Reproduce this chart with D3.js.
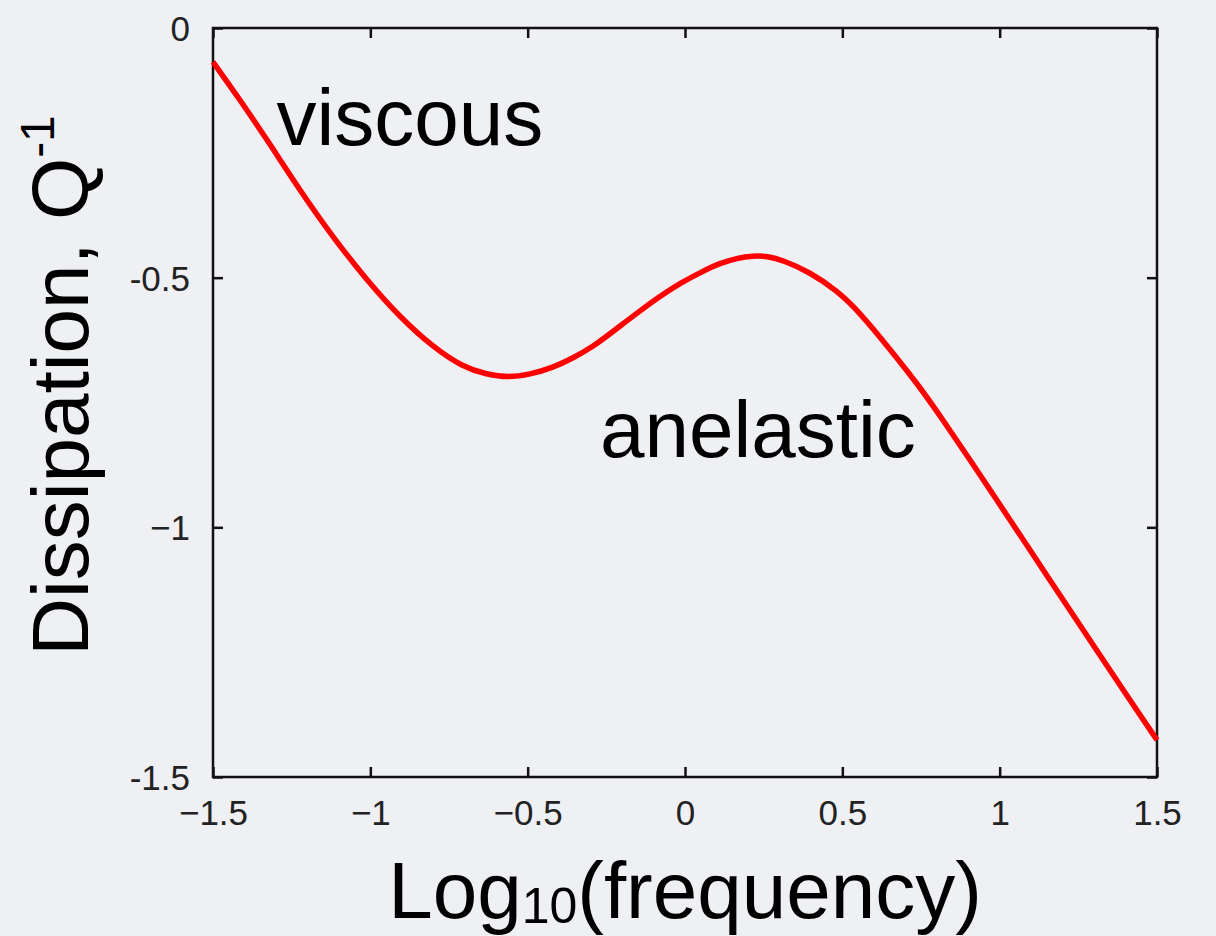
<!DOCTYPE html>
<html>
<head>
<meta charset="utf-8">
<script src="https://cdn.jsdelivr.net/npm/d3@7"></script>
<style>
  html, body { margin: 0; padding: 0; background: #eff0f4; }
  svg { display: block; }
  text { font-family: "Liberation Sans", Arial, Helvetica, sans-serif; }
</style>
</head>
<body>
<svg id="chart" width="1216" height="936"></svg>
<script>
// Dissipation curve: log10(frequency) vs Q^-1
const logFreq = [-1.5, -1.414, -1.328, -1.224, -1.119, -1.011, -0.906, -0.801, -0.706, -0.629,
  -0.563, -0.493, -0.419, -0.356, -0.292, -0.229, -0.153, -0.079, -0.016, 0.057,
  0.111, 0.165, 0.216, 0.261, 0.311, 0.397, 0.483, 0.556, 0.651, 0.737,
  0.820, 0.906, 1.033, 1.160, 1.287, 1.414, 1.5];
const dissipation = [-0.068, -0.144, -0.224, -0.325, -0.419, -0.505, -0.579, -0.639, -0.679, -0.694,
  -0.700, -0.694, -0.680, -0.661, -0.638, -0.608, -0.571, -0.537, -0.511, -0.487,
  -0.471, -0.461, -0.456, -0.457, -0.465, -0.489, -0.526, -0.570, -0.643, -0.711,
  -0.785, -0.865, -0.985, -1.106, -1.226, -1.346, -1.426];

const xTicks = [-1.5, -1, -0.5, 0, 0.5, 1, 1.5];
const xTickLabels = ["\u22121.5", "\u22121", "\u22120.5", "0", "0.5", "1", "1.5"];
const yTicks = [0, -0.5, -1, -1.5];
const yTickLabels = ["0", "-0.5", "\u22121", "-1.5"];

const annotations = [
  { text: "viscous", x: -1.298, y: -0.235 },
  { text: "anelastic", x: -0.27, y: -0.86 }
];

const margin = { left: 213, right: 59, top: 28, bottom: 159 };
const W = 1216, H = 936;
const svg = d3.select("#chart");

const x = d3.scaleLinear().domain([-1.5, 1.5]).range([margin.left, W - margin.right]);
const y = d3.scaleLinear().domain([-1.5, 0]).range([H - margin.bottom, margin.top]);

const tickLen = 10;
const fmt = (labels, ticks) => d => labels[ticks.indexOf(d)];

// bottom axis with labels
const gx = svg.append("g")
  .attr("transform", `translate(0,${y(-1.5)})`)
  .call(d3.axisBottom(x).tickValues(xTicks).tickFormat(fmt(xTickLabels, xTicks))
    .tickSizeInner(-tickLen).tickSizeOuter(0).tickPadding(23));
// left axis with labels
const gy = svg.append("g")
  .attr("transform", `translate(${x(-1.5)},0)`)
  .call(d3.axisLeft(y).tickValues(yTicks).tickFormat(fmt(yTickLabels, yTicks))
    .tickSizeInner(-tickLen).tickSizeOuter(0).tickPadding(23));
// top and right axes: inward ticks only
const gt = svg.append("g")
  .attr("transform", `translate(0,${y(0)})`)
  .call(d3.axisTop(x).tickValues(xTicks).tickFormat("")
    .tickSizeInner(-tickLen).tickSizeOuter(0));
const gr = svg.append("g")
  .attr("transform", `translate(${x(1.5)},0)`)
  .call(d3.axisRight(y).tickValues(yTicks).tickFormat("")
    .tickSizeInner(-tickLen).tickSizeOuter(0));

[gx, gy, gt, gr].forEach(g => {
  g.select(".domain").remove();
  g.selectAll(".tick line").attr("stroke", "#111").attr("stroke-width", 2.5);
  g.selectAll(".tick text").attr("fill", "#222").attr("font-size", 35);
});
gx.selectAll(".tick text").attr("dy", "0.71em");
gy.selectAll(".tick text").attr("dy", "0.36em");

// frame
svg.append("rect")
  .attr("x", x(-1.5)).attr("y", y(0))
  .attr("width", x(1.5) - x(-1.5)).attr("height", y(-1.5) - y(0))
  .attr("fill", "none").attr("stroke", "#111").attr("stroke-width", 2.5);

// curve (B-spline through the sampled points for a smooth trace)
const line = d3.line()
  .x((d, i) => x(logFreq[i]))
  .y(d => y(d))
  .curve(d3.curveBasis);
svg.append("path")
  .datum(dissipation)
  .attr("d", line)
  .attr("fill", "none")
  .attr("stroke", "#ff0000")
  .attr("stroke-width", 5.5)
  .attr("stroke-linejoin", "round");

// annotations
svg.selectAll("text.note")
  .data(annotations)
  .join("text")
  .attr("class", "note")
  .attr("x", d => x(d.x))
  .attr("y", d => y(d.y))
  .attr("font-size", 80)
  .attr("fill", "#000")
  .text(d => d.text);

// x axis title with subscript
const xt = svg.append("text")
  .attr("x", (x(-1.5) + x(1.5)) / 2)
  .attr("y", 918)
  .attr("text-anchor", "middle")
  .attr("font-size", 80)
  .attr("fill", "#000");
xt.append("tspan").text("Log");
xt.append("tspan").attr("font-size", 50).attr("dy", 5).text("10");
xt.append("tspan").attr("dy", -5).text("(frequency)");

// y axis title with superscript
const yt = svg.append("text")
  .attr("transform", `translate(88,${(y(0) + y(-1.5)) / 2 - 17}) rotate(-90)`)
  .attr("text-anchor", "middle")
  .attr("font-size", 80)
  .attr("fill", "#000");
yt.append("tspan").text("Dissipation, Q");
yt.append("tspan").attr("font-size", 48).attr("dy", -34).text("-1");
</script>
</body>
</html>
